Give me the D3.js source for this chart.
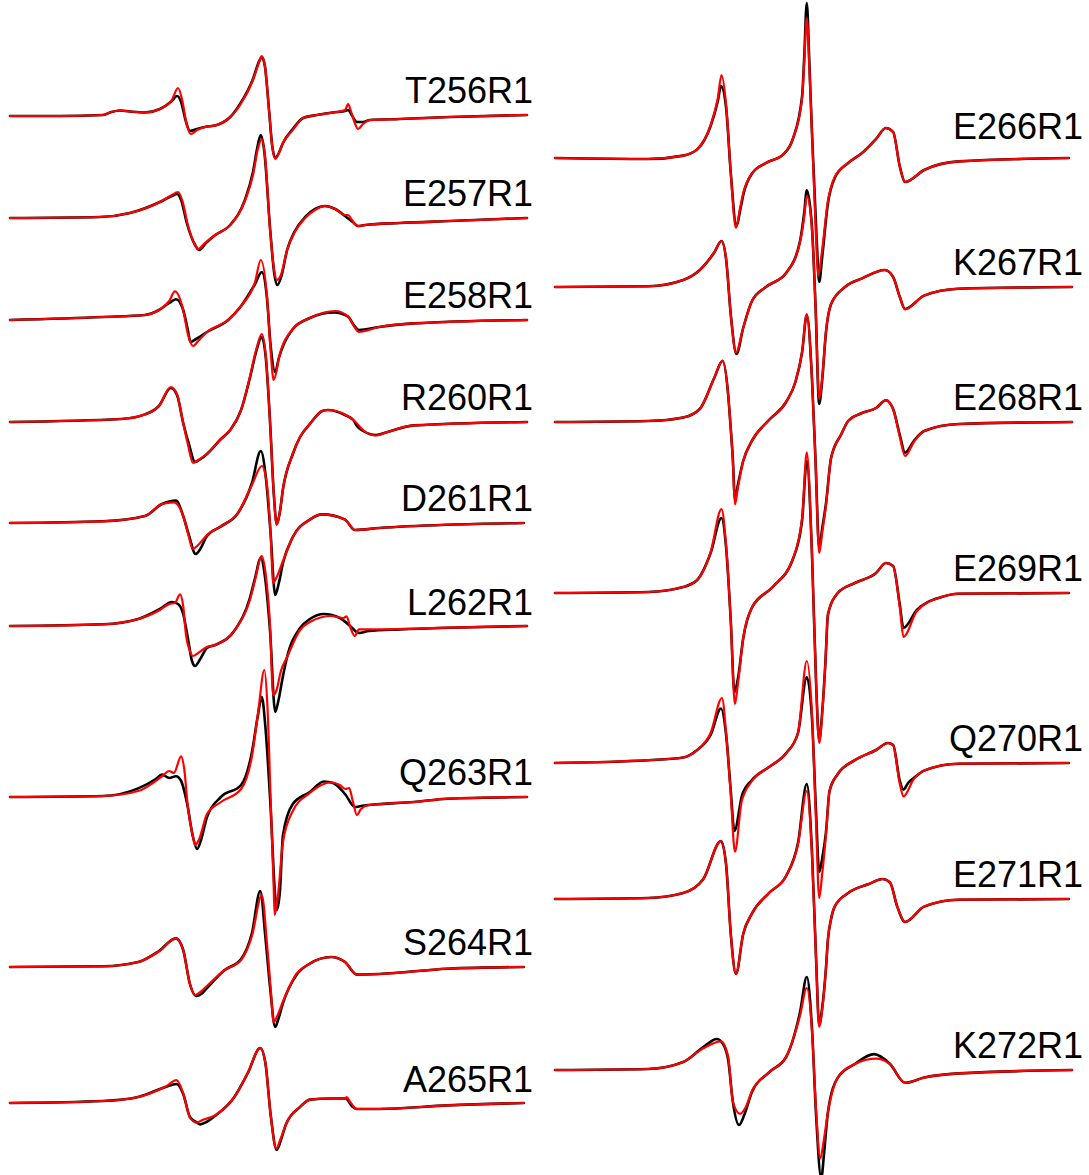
<!DOCTYPE html>
<html><head><meta charset="utf-8">
<script src="https://cdn.jsdelivr.net/npm/d3@7"></script>
<style>html,body{margin:0;padding:0;background:#fff;}</style>
</head><body>
<svg id="chart" width="1089" height="1175"></svg>
<script>
// ---- DATA: field (G, 0-100 sweep) vs. first-derivative amplitude (a.u.) ----
// exp = experimental spectrum (black), sim = simulation (red)
const leftLabels  = ["T256R1","E257R1","E258R1","R260R1","D261R1","L262R1","Q263R1","S264R1","A265R1"];
const rightLabels = ["E266R1","K267R1","E268R1","E269R1","Q270R1","E271R1","K272R1"];
// vertical stacking offsets (a.u.)
const leftOffsets  = [-116,-218,-320,-422,-523,-626,-797,-967,-1103];
const rightOffsets = [-158,-287,-422,-593,-763,-899,-1070];

const T256_sim=[[0,0],[9.7,0],[18,1],[19.6,4],[21.3,5.5],[23.2,4.5],[26.1,3.5],[29,7],[31.3,16],[32.5,28],[33.3,16],[34.2,-9],[35,-18],[36.2,-14],[37.7,-11],[40,-9],[42.6,-1],[44.5,11],[47,36],[48.2,54],[48.7,60],[49.3,50],[50.1,6],[50.7,-29],[51.3,-43],[52,-37],[52.8,-27],[54.7,-14],[56.7,-2],[59.4,1],[63.2,4],[64.8,6],[65.4,12],[66,4],[66.7,-7],[67.3,-13],[68.3,-8],[69.6,-4],[75.4,-3],[85.1,-1],[100,1]];
const T256_exp=[[0,0],[9.7,0],[18,1],[19.6,4],[21.3,5.5],[23.2,4.5],[26.1,3.5],[29,7],[31.3,15],[32.3,20],[33.1,14],[34,-5],[34.8,-15],[36.2,-13],[37.7,-11],[40,-9],[42.6,-1],[44.5,12],[47,37],[48.2,55],[48.7,59],[49.3,50],[50.1,6],[50.7,-29],[51.3,-42],[52,-37],[52.8,-27],[54.7,-13],[56.7,-2],[59.4,1],[63.2,4],[64.8,5],[65.4,6],[66.2,0],[67.1,-6],[68.3,-6],[69.6,-4],[75.4,-3],[85.1,-1],[100,1]];

const E257_sim=[[0,0],[17.4,1],[23.2,5],[29,16],[31.3,23],[32.5,26],[33.3,18],[34.4,-7],[35.8,-27],[36.4,-31],[37.7,-25],[39.7,-17],[42.6,-7],[45.5,18],[47,43],[47.9,68],[48.7,79],[49.3,63],[50.3,-12],[51.1,-52],[51.6,-62],[52.4,-57],[53.6,-32],[55.1,-14],[57.1,0],[59,8],[60.9,12],[62.9,9],[64.8,3],[65.4,3],[66,-1],[66.7,-6],[67.3,-8],[68.7,-7],[75.4,-5],[85.1,-3],[100,0]];
const E257_exp=[[0,0],[17.4,1],[23.2,5],[29,16],[31.3,22],[32.3,24],[33.1,18],[34.2,-5],[35.8,-27],[36.6,-32],[37.9,-25],[39.7,-17],[42.6,-7],[45.5,19],[47,46],[47.9,72],[48.5,83],[49.2,66],[50.3,-10],[51.1,-55],[51.7,-67],[52.5,-58],[53.6,-32],[55.1,-13],[57.1,1],[59,9],[60.9,12],[62.9,9],[64.8,2],[66.3,-4],[67.3,-8],[68.7,-7],[75.4,-5],[85.1,-3],[100,0]];

const E258_sim=[[0,0],[18,3],[26.1,5],[28.8,10],[30.8,19],[31.9,28.6],[33.5,10],[34.4,-14],[35.4,-26],[36.4,-21],[38.1,-12],[42.2,0],[44.7,14],[47.4,38],[48.5,60],[49.7,24],[50.4,-30],[51,-60],[51.6,-50],[52,-38],[54.7,-9],[58,2],[62.9,9],[65.4,3.4],[66.5,-6],[67.5,-12],[71.4,-7],[78.1,-3.4],[100,0]];
const E258_exp=[[0,0],[18,3],[26.1,5],[28.8,10],[30.8,17],[32.1,20.7],[33.5,10],[34.4,-10],[34.9,-22],[36,-19],[38.1,-12],[42.2,0],[44.7,14],[47.4,36],[48.7,48],[49.7,22],[50.4,-25],[51.3,-52],[52,-38],[54.7,-9],[58,2],[62.7,7.6],[65.4,3.4],[66.5,-5],[67.5,-10],[71.4,-7],[78.1,-3.4],[100,0]];

const R260_sim=[[0,0],[21.5,3],[26.1,7.6],[28.8,16],[31.1,35],[32.3,28],[33.5,-1],[34.4,-22],[35.4,-41],[36.4,-38],[38.1,-32],[40.8,-17],[42.6,-8],[44.7,12],[46.4,45],[47.6,72],[48.7,88],[49.5,65],[50.3,0],[51,-70],[51.6,-103],[52.2,-90],[52.8,-67],[54.7,-32],[56.1,-15],[58,-2],[60.4,11],[61.5,12],[64.8,7.6],[66.7,0.7],[68.3,-8],[70.8,-13.5],[73,-10],[78.1,-3.4],[100,0]];
const R260_exp=[[0,0],[21.5,3],[26.1,7.6],[28.8,16],[31.1,34],[32.3,27],[33.5,-1],[34.6,-22],[35.8,-40],[36.6,-38],[38.1,-32],[40.8,-17],[42.6,-8],[44.7,12],[46.4,44],[47.6,70],[48.7,85],[49.5,63],[50.3,0],[51,-70],[51.6,-102],[52.2,-90],[52.8,-67],[54.7,-32],[56.1,-15],[58,-2],[60.4,11],[61.5,12],[64.8,7],[66.4,2],[67.1,-4],[68.3,-9],[70.8,-13],[73,-10],[78.1,-3.4],[100,0]];

const D261_sim=[[0,0],[18,1.7],[26.1,7],[29.4,19],[31.7,20.7],[33.5,7],[34.4,-10],[35.4,-26],[36.4,-22],[38.1,-12],[40.8,-3.4],[44.1,10],[46.8,38],[48.7,57],[49.7,38],[50.4,-10],[50.9,-60],[51.5,-55],[52.8,-38],[54.7,-14],[58,3.4],[60.2,8.6],[64.8,3.4],[66.7,-7],[71.4,-5],[84.7,-1.7],[99.4,0]];
const D261_exp=[[0,0],[18,1.7],[26.1,7],[29.4,19],[32.1,22.4],[33.5,7],[34.6,-12],[35.9,-31],[36.8,-26],[38.1,-13],[40.8,-3.4],[44.1,10],[46.8,40],[48.5,72],[49.5,45],[50.4,-10],[51.3,-72],[52,-60],[52.8,-40],[54.7,-14],[58,3.4],[60.4,8.6],[64.8,3.4],[66.7,-7],[71.4,-5],[84.7,-1.7],[99.4,0]];

const L262_sim=[[0,0],[18,1.7],[24.8,7],[29,16],[30.8,22],[31.9,23],[32.9,31.7],[33.5,20],[34,-7],[34.8,-25],[35.4,-30],[36.4,-27],[38.1,-21],[39.7,-19],[43.5,-4],[46.4,26],[47.4,46],[48.7,70],[49.5,50],[50.3,0],[50.9,-69],[51.5,-65],[52.4,-45],[53.6,-31],[56.1,-4],[58,4],[62.1,10],[64.5,8],[65.1,9.7],[65.8,-1],[66.7,-10],[67.5,-3.4],[71.4,-3.4],[84.7,-1.7],[100,0]];
const L262_exp=[[0,0],[18,1.7],[24.8,7],[29,17],[31.3,24],[32.5,22],[33.5,12],[34.4,-12],[35.2,-35],[35.8,-40],[36.8,-33],[38.1,-22],[39.7,-19],[43.5,-4],[46.4,28],[47.4,48],[48.5,68],[49.3,50],[50.3,-5],[51.3,-86],[51.9,-75],[52.8,-50],[53.6,-31],[56.1,-2],[58,7],[60.7,12],[63.8,8],[65.8,0],[67.5,-7],[69.4,-5],[75.4,-3.4],[84.7,-1.7],[100,0]];

const Q263_sim=[[0,0],[18,1],[24.8,6],[29.4,20.7],[30.8,26],[31.7,24],[33.1,40.7],[33.7,28],[34.4,-10],[35.4,-40],[35.8,-48],[36.6,-42],[38.1,-17],[40.8,-5],[44.7,8],[46.8,41],[48,85],[49.2,127],[49.8,90],[50.4,0],[51,-90],[51.2,-118],[51.8,-100],[52.8,-45],[54.7,-14],[58,4],[60.2,12],[62.1,14.5],[63.8,12],[64.9,8],[65.6,9],[66.3,-4],[67.1,-18],[67.9,-12],[69.4,-8],[78.1,-5],[84.7,-1.7],[100,0]];
const Q263_exp=[[0,0],[18,1],[24.8,8.6],[28.2,18],[29.4,22.4],[30.8,19],[32.1,20.7],[33.1,16],[34.2,-5],[35.4,-40],[36.2,-52],[37,-42],[38.1,-20],[40.8,0],[44.7,12],[46.8,45],[47.9,80],[48.7,100],[49.4,70],[50.4,-10],[51.3,-100],[51.6,-113],[52.2,-95],[52.8,-38],[54.7,-7],[58,5],[60.7,15.5],[62.5,14],[64.8,3],[66.7,-10],[67.9,-9],[69.4,-8],[78.1,-5],[84.7,-1.7],[100,0]];

const S264_sim=[[0,0],[18,0.7],[24.8,5],[28.8,15.5],[32.1,28.6],[33.5,17],[34.8,-17],[35.8,-28],[36.8,-25],[38.1,-19],[41.4,-3.4],[44.7,7],[46.8,31],[48.7,72],[49.7,24],[50.4,-20],[51,-55],[51.6,-50],[52.8,-34.5],[55.4,-7],[58,3.4],[62.1,10],[64.8,5],[67.1,-7.6],[71.4,-7],[84.7,-1.7],[99.4,0]];
const S264_exp=[[0,0],[18,0.7],[24.8,5],[28.8,16],[32.1,28.6],[33.5,17],[34.8,-17],[36,-29],[37,-27],[38.1,-21],[41.4,-3.4],[44.7,8],[46.8,34],[48.4,76],[49.4,30],[50.3,-20],[51.3,-60],[51.9,-52],[52.8,-36],[55.4,-8],[58,3.4],[62.1,10],[64.8,5],[67.1,-7.6],[71.4,-7],[84.7,-1.7],[99.4,0]];

const A265_sim=[[0,0],[18,2],[24.8,6],[30.1,16.5],[32.2,22.8],[33.5,10],[34.8,-14.5],[36.1,-19.7],[37.2,-17],[39.5,-12.8],[43.4,6],[46,30],[48.4,55],[49.4,40],[50.4,-11],[51.5,-45.5],[52.4,-35],[53.4,-21],[56.1,-4],[58,3.4],[62.1,4.5],[64.9,4.5],[65.1,6],[65.8,1],[67.1,-6],[71.4,-6],[84.7,-2.4],[99.4,0]];
const A265_exp=[[0,0],[18,2],[24.8,6],[30.1,16],[32.2,19],[33.5,9],[34.8,-14],[36,-19],[36.8,-21.4],[38,-19],[39.5,-13.5],[43.4,6],[46,30],[48.4,55],[49.4,40],[50.4,-11],[51.6,-47],[52.4,-37],[53.4,-21],[56.1,-4],[58,3.4],[62.1,4.5],[64.9,4.5],[66.3,-4],[67.1,-6],[71.4,-6],[84.7,-2.4],[99.4,0]];

const E266_sim=[[0,0],[18,-1],[24.8,2.4],[27.5,8.6],[30.1,32.8],[31.5,60],[32.2,82.8],[33.1,53],[34,-15.5],[35,-70],[35.8,-50],[36.4,-35],[38.1,-15.5],[40.8,-5],[44.1,3.4],[46,19],[47.8,60],[48.2,95],[48.7,140],[49.2,90],[49.7,26],[50.5,-80],[50.9,-118],[51.6,-95],[52.8,-43],[54.1,-19],[56.7,-5],[59.4,5],[62.1,19],[64,30],[65.4,26],[66.7,-8.6],[67.7,-24],[71.4,-12],[78.1,-3.4],[99.4,0]];
const E266_exp=[[0,0],[18,-1],[24.8,2.4],[27.5,8.6],[30.1,32],[31.5,57],[32.1,72],[33.1,50],[34,-15],[35.1,-68],[35.9,-50],[36.5,-35],[38.1,-15.5],[40.8,-5],[44.1,3.4],[46,19],[47.8,62],[48.2,100],[48.7,155],[49.2,95],[49.7,26],[50.6,-80],[51.1,-124],[51.7,-98],[52.8,-45],[54.1,-20],[56.7,-5],[59.4,5],[62.1,19],[64,30],[65.4,26],[66.7,-8.6],[67.7,-24],[71.4,-12],[78.1,-3.4],[99.4,0]];

const K267_sim=[[0,0],[18,0.7],[24.8,7],[28,17],[30.8,34.5],[32.2,46],[33.1,27.6],[34,-27.6],[35,-65.5],[36.4,-41],[38.1,-14],[40.8,0],[44.7,14],[47.4,45],[48.2,70],[48.7,91],[49.7,58.6],[50.4,-20],[51.1,-112],[51.7,-90],[52.4,-45],[53.4,-17],[56.1,0],[59.4,8.6],[63.8,17],[65.4,10],[66.7,-10],[67.7,-22.4],[71.4,-8.6],[78.1,-1.7],[100,0]];
const K267_exp=[[0,0],[18,0.7],[24.8,7],[28,17],[30.8,34.5],[32.2,46],[33.1,27.6],[34,-27.6],[35.1,-67],[36.4,-41],[38.1,-14],[40.8,0],[44.7,14],[47.4,46],[48.2,74],[48.7,96.6],[49.7,60],[50.4,-20],[51.1,-117],[51.7,-92],[52.4,-46],[53.4,-17],[56.1,0],[59.4,8.6],[63.8,17],[65.4,10],[66.7,-10],[67.7,-22],[71.4,-8.6],[78.1,-1.7],[100,0]];

const E268_sim=[[0,0],[18,1],[24.8,4.5],[28,13],[30.8,44],[32.4,61.4],[33.5,27],[33.9,0],[34.4,-39],[34.8,-82.5],[35.4,-65],[36.4,-39],[38.1,-18.7],[41.4,2],[44.7,20],[46.5,40],[47.8,70],[48.7,108],[49.7,44],[50.4,-40],[51.1,-131],[51.7,-110],[52.4,-84],[53.4,-36],[55.4,-12],[56.7,1],[59.4,9],[62.1,14],[64,21.7],[65.4,13],[66.7,-15],[67.7,-34],[69.4,-20],[71.4,-9],[78.1,-2],[100,0]];
const E268_exp=[[0,0],[18,1],[24.8,4.5],[28,13],[30.8,44],[32.4,61],[33.5,27],[33.9,0],[34.4,-37],[34.8,-77],[35.4,-62],[36.4,-39],[38.1,-18.7],[41.4,2],[44.7,20],[46.5,40],[47.8,70],[48.7,107],[49.7,44],[50.4,-40],[51.1,-125.6],[51.7,-106],[52.4,-82],[53.4,-36],[55.4,-12],[56.7,1],[59.4,9],[62.1,14],[64,21.7],[65.4,13],[66.7,-13],[67.7,-30.7],[69.4,-19],[71.4,-9],[78.1,-2],[100,0]];

const E269_sim=[[0,0],[18,1],[24.8,6],[27.5,13],[30.1,40.7],[32.2,83.8],[33.1,47.6],[34,-28],[34.8,-111],[35.4,-90],[36.4,-45.5],[38.1,-14.5],[42.1,6],[46,33.8],[47.8,75],[48.7,140.7],[49.7,40],[50.5,-90],[51.1,-150],[51.7,-120],[52.3,-70],[52.8,-21.4],[54.7,0],[58,10],[62.1,20],[64,30],[65.4,27],[66.7,-14.5],[67.4,-43.8],[70,-18],[74.8,-4],[78.1,-0.7],[99.4,0]];
const E269_exp=[[0,0],[18,1],[24.8,6],[27.5,13],[30.1,40],[32.2,75],[33.1,45],[34,-28],[34.7,-99],[35.4,-85],[36.4,-45.5],[38.1,-14.5],[42.1,6],[46,33.8],[47.8,73],[48.7,132],[49.7,40],[50.5,-90],[51.1,-147],[51.7,-118],[52.3,-70],[52.8,-21.4],[54.7,0],[58,10],[62.1,20],[64,30],[65.4,27],[66.7,-12],[67.4,-35],[70,-17],[74.8,-4],[78.1,-0.7],[99.4,0]];

const Q270_sim=[[0,0],[18,2.8],[24.8,5.5],[27.5,13],[30.1,30],[32.3,65],[33.1,30],[34,-31.7],[34.8,-88.6],[36.1,-38.6],[38.1,-18],[41.4,-4],[44.7,9.7],[47,30],[48.7,102],[49.7,50],[50.5,-60],[51.1,-135],[51.7,-110],[52.4,-73],[53.1,-28],[54.7,-11],[58,2.8],[62.1,13],[64.4,20],[65.4,18],[66.7,-21],[67.4,-33.4],[69.4,-16],[71.4,-7.6],[78.1,-0.7],[99.4,0]];
const Q270_exp=[[0,0],[18,2.8],[24.8,5.5],[27.5,13],[30.1,28],[32.1,54.5],[33.1,28],[34,-28],[34.7,-68],[36.2,-32],[38.1,-17],[41.4,-4],[44.7,9.7],[47,30],[48.7,86],[49.7,45],[50.5,-50],[51.1,-109],[51.7,-95],[52.4,-70],[53.1,-28],[54.7,-11],[58,2.8],[62.1,13],[64.4,20],[65.4,18],[66.7,-18],[67.4,-26.6],[68.3,-20],[69.4,-15],[71.4,-7.6],[78.1,-0.7],[99.4,0]];

const E271_sim=[[0,0],[18,1],[24.8,6],[28.7,20],[32.1,58],[33.1,34],[34,-35],[35,-75],[36.4,-35],[38.1,-14.5],[41.4,6],[44.7,23],[47,54.5],[48.7,108],[49.7,45],[50.5,-60],[51.1,-128],[51.7,-110],[52.4,-70],[52.8,-40],[53.4,-20],[54.1,-7.6],[56.7,6],[60.7,15],[63.4,20],[64.8,16.5],[66.2,-7.6],[67.7,-23],[71.4,-7.6],[78.1,-0.7],[99.4,0]];
const E271_exp=[[0,0],[18,1],[24.8,6],[28.7,20],[32.1,58],[33.1,34],[34,-35],[35,-75],[36.4,-35],[38.1,-14.5],[41.4,6],[44.7,23],[47,56],[48.7,115],[49.7,48],[50.5,-60],[51.1,-126],[51.7,-108],[52.4,-70],[52.8,-40],[53.4,-20],[54.1,-7.6],[56.7,6],[60.7,15],[63.4,20],[64.8,16.5],[66.2,-7.6],[67.7,-23],[71.4,-7.6],[78.1,-0.7],[99.4,0]];

const K272_sim=[[0,0],[18,1],[24.8,8],[28.7,21.7],[32.1,28.6],[33.5,13],[34.4,-31.7],[35.8,-43.8],[36.8,-38],[38.1,-21],[41.4,-2.4],[44.7,13],[47.4,54.5],[48.7,82],[49.7,40],[50.5,-40],[51.3,-88.6],[52,-70],[52.8,-42],[54.7,-7.6],[58,6],[62.1,11.4],[64.8,6],[67.7,-12.8],[71.4,-7.6],[78.1,-3.4],[100,0]];
const K272_exp=[[0,0],[18,1],[24.8,8],[28.7,23],[31.3,31],[32.5,26],[33.5,10],[34.4,-31.7],[35.6,-55],[36.6,-45],[38.1,-22],[41.4,-2.4],[44.7,13],[47.4,58],[48.7,93],[49.7,42],[50.5,-45],[51.5,-108],[52.1,-80],[52.8,-42],[54.7,-7.6],[58,6],[61.7,15.9],[64.8,6],[67.7,-12.8],[71.4,-7.6],[78.1,-3.4],[100,0]];

const leftExp  = [T256_exp,E257_exp,E258_exp,R260_exp,D261_exp,L262_exp,Q263_exp,S264_exp,A265_exp];
const leftSim  = [T256_sim,E257_sim,E258_sim,R260_sim,D261_sim,L262_sim,Q263_sim,S264_sim,A265_sim];
const rightExp = [E266_exp,K267_exp,E268_exp,E269_exp,Q270_exp,E271_exp,K272_exp];
const rightSim = [E266_sim,K267_sim,E268_sim,E269_sim,Q270_sim,E271_sim,K272_sim];

// ---- LAYOUT / STYLE ----
const W = 1089, H = 1175;
const labelLiftLeft  = [13,12,12,12,12,11,12,12,11];
const labelLiftRight = [19,12,12,12,12,12,12];

const svg = d3.select("#chart");
svg.append("rect").attr("width",W).attr("height",H).attr("fill","#fff");

const yScale = d3.scaleLinear().domain([0,-H]).range([0,H]);

function drawColumn(labels, offsets, expSets, simSets, xRange, labelX, lifts){
  const x = d3.scaleLinear().domain([0,100]).range(xRange);
  const g = svg.append("g");
  labels.forEach((lab,i)=>{
    const off = offsets[i];
    const line = d3.line()
      .x(d=>x(d[0]))
      .y(d=>yScale(off + d[1]))
      .curve(d3.curveMonotoneX);
    g.append("path").datum(expSets[i]).attr("d",line)
      .attr("fill","none").attr("stroke","#000").attr("stroke-width",2.6)
      .attr("stroke-linejoin","round").attr("stroke-linecap","round");
    g.append("path").datum(simSets[i]).attr("d",line)
      .attr("fill","none").attr("stroke","#ff0000").attr("stroke-width",2.2)
      .attr("stroke-linejoin","round").attr("stroke-linecap","round");
    g.append("text")
      .attr("x",labelX)
      .attr("y",yScale(off + lifts[i]))
      .attr("text-anchor","end")
      .attr("font-family","'Liberation Sans', Arial, sans-serif")
      .attr("font-size",36)
      .attr("fill","#000")
      .text(lab);
  });
}

drawColumn(leftLabels, leftOffsets, leftExp, leftSim, [10,527], 533, labelLiftLeft);
drawColumn(rightLabels, rightOffsets, rightExp, rightSim, [555,1072], 1083, labelLiftRight);
</script>
</body></html>
